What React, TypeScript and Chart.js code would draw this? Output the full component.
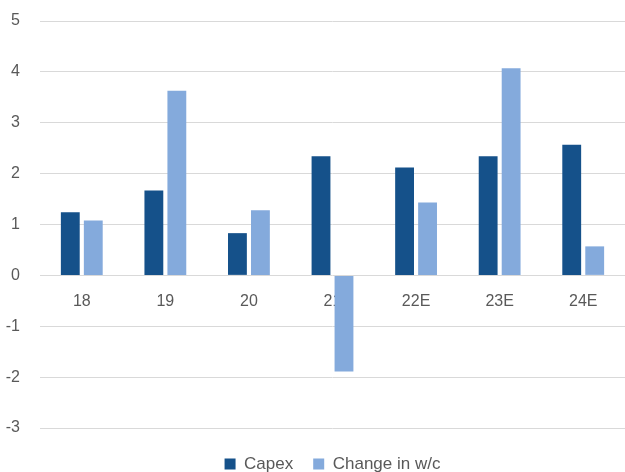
import React, { useEffect, useRef } from "react";
import { Chart, registerables } from "chart.js";

Chart.register(...registerables);

const categories = ["18", "19", "20", "21", "22E", "23E", "24E"];
const capex = [1.24, 1.67, 0.83, 2.34, 2.12, 2.34, 2.57];
const changeWC = [1.08, 3.63, 1.28, -1.89, 1.43, 4.07, 0.57];
const yMin = -3;
const yMax = 5;

const centerLegendOverPlot = {
  id: "centerLegendOverPlot",
  afterLayout(chart: any) {
    const lg = chart.legend;
    if (lg && chart.chartArea) {
      lg.left = chart.chartArea.left;
      lg.right = chart.chartArea.right;
    }
  },
};

export default function App() {
  const ref = useRef<HTMLCanvasElement | null>(null);
  useEffect(() => {
    if (!ref.current) return;
    const family = "'Liberation Sans', Arial, sans-serif";
    const tickFont = { family, size: 16 };
    const legendFont = { family, size: 17 };
    const chart = new Chart(ref.current, {
      type: "bar",
      data: {
        labels: categories,
        datasets: [
          {
            label: "Capex",
            data: capex,
            backgroundColor: "#15518a",
            categoryPercentage: 0.55,
            barPercentage: 0.82,
          },
          {
            label: "Change in w/c",
            data: changeWC,
            backgroundColor: "#84aadc",
            categoryPercentage: 0.55,
            barPercentage: 0.82,
          },
        ],
      },
      plugins: [centerLegendOverPlot],
      options: {
        animation: false,
        responsive: false,
        maintainAspectRatio: false,
        layout: { padding: { top: 21, right: 0, bottom: -10.5, left: 0 } },
        plugins: {
          tooltip: { enabled: false },
          legend: {
            position: "bottom",
            title: { display: true, text: " ", font: { size: 1 }, padding: { top: 6.3, bottom: 0 } },
            labels: {
              font: legendFont,
              color: "#595959",
              boxWidth: 11,
              boxHeight: 11,
              padding: 20,
            },
          },
        },
        scales: {
          x: {
            position: { y: 0 } as any,
            grid: { display: false, drawTicks: false },
            border: { display: false },
            ticks: { font: tickFont, color: "#595959", padding: 17 },
          },
          y: {
            min: yMin,
            max: yMax,
            grid: { color: "#d9d9d9", drawTicks: true, tickLength: 17, tickColor: "rgba(0,0,0,0)", lineWidth: 1 },
            border: { display: false },
            ticks: { stepSize: 1, font: tickFont, color: "#595959", padding: 3 },
            afterFit: (s: any) => {
              s.width = 40;
            },
          },
        },
      },
    });
    return () => chart.destroy();
  }, []);
  return (
    <div style={{ position: "fixed", left: 0, top: 0, width: 625, height: 472 }}>
      <canvas ref={ref} width={625} height={472} style={{ width: 625, height: 472 }} />
    </div>
  );
}
